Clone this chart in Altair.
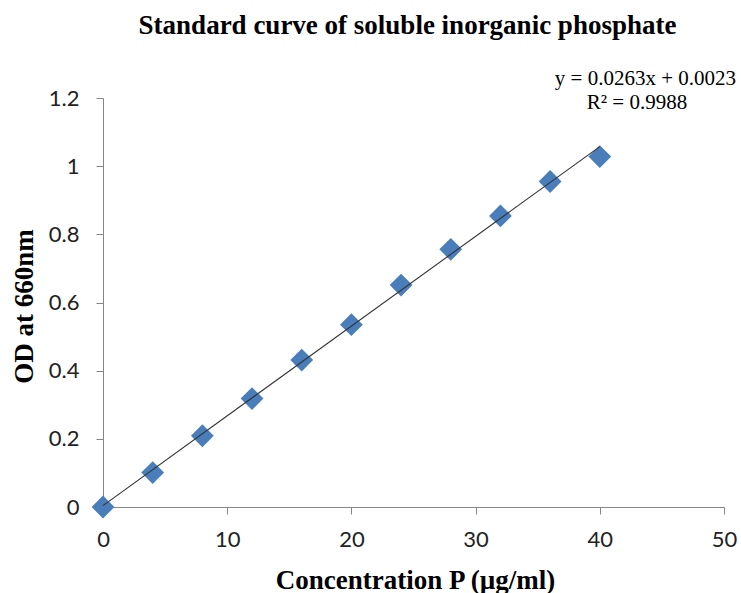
import altair as alt
import pandas as pd

# ---- data ----
conc = [0, 4, 8, 12, 16, 20, 24, 28, 32, 36, 40]
od = [0.0, 0.101, 0.209, 0.318, 0.431, 0.535, 0.651, 0.756, 0.854, 0.955, 1.028]
x_ticks = [0, 10, 20, 30, 40, 50]
y_ticks = [0, 0.2, 0.4, 0.6, 0.8, 1.0, 1.2]
chart_title = ["Standard curve of soluble inorganic phosphate"]
eq_line = ["y = 0.0263x + 0.0023"]
r2_line = ["R² = 0.9988"]
x_title = "Concentration P (µg/ml)"
y_title = "OD at 660nm"

df = pd.DataFrame({"conc": conc, "od": od})

W, H = 621, 409
AXIS_COLOR = "#868686"
LABEL_FONT = "Lato"
SERIF = "Liberation Serif"

x_enc = alt.X(
    "conc:Q",
    scale=alt.Scale(domain=[0, 50], nice=False, zero=False),
    axis=alt.Axis(
        values=x_ticks, grid=False, title=x_title, labelFlush=False,
        domainColor=AXIS_COLOR, tickColor=AXIS_COLOR, tickSize=7,
        labelFont=LABEL_FONT, labelFontSize=22, labelColor="#222222", labelPadding=15,
        titleFont=SERIF, titleFontSize=27, titleFontWeight="bold", titleColor="#000000",
        titleX=312, titleY=81, titleBaseline="alphabetic", titleAlign="center",
    ),
)
y_enc = alt.Y(
    "od:Q",
    scale=alt.Scale(domain=[0, 1.2], nice=False),
    axis=alt.Axis(
        values=y_ticks, grid=False, title=y_title, labelFlush=False,
        labelExpr="'' + round(datum.value * 10) / 10",
        domainColor=AXIS_COLOR, tickColor=AXIS_COLOR, tickSize=7,
        labelFont=LABEL_FONT, labelFontSize=22, labelColor="#222222", labelPadding=17,
        titleFont=SERIF, titleFontSize=27, titleFontWeight="bold", titleColor="#000000",
        titleX=-71, titleY=208, titleBaseline="alphabetic", titleAlign="center", titleAngle=270,
    ),
)

base = alt.Chart(df)

points = base.mark_point(
    shape="diamond", filled=True, size=520, color="#4A7EBB", opacity=1
).encode(x=x_enc, y=y_enc)

trend = base.transform_regression("conc", "od").mark_line(
    color="#333333", strokeWidth=1.1
).encode(x=x_enc, y=y_enc)

title_layer = alt.Chart(pd.DataFrame({"t": chart_title})).mark_text(
    font=SERIF, fontSize=27, fontWeight="bold", color="#000000",
    align="center", baseline="alphabetic",
).encode(x=alt.value(304.5), y=alt.value(-64), text="t:N")

eq_layer = alt.Chart(pd.DataFrame({"t": eq_line})).mark_text(
    font=SERIF, fontSize=21, color="#000000", align="right", baseline="alphabetic",
).encode(x=alt.value(633), y=alt.value(-13), text="t:N")

r2_layer = alt.Chart(pd.DataFrame({"t": r2_line})).mark_text(
    font=SERIF, fontSize=21, color="#000000", align="center", baseline="alphabetic",
).encode(x=alt.value(534), y=alt.value(11), text="t:N")

chart = alt.layer(points, trend, title_layer, eq_layer, r2_layer).properties(
    width=W, height=H,
    autosize=alt.AutoSizeParams(type="none"),
    padding={"left": 103, "top": 98, "right": 17, "bottom": 86},
    background="white",
).configure_view(stroke=None)

chart.save("out.html", embed_options={"renderer": "svg", "actions": False})
